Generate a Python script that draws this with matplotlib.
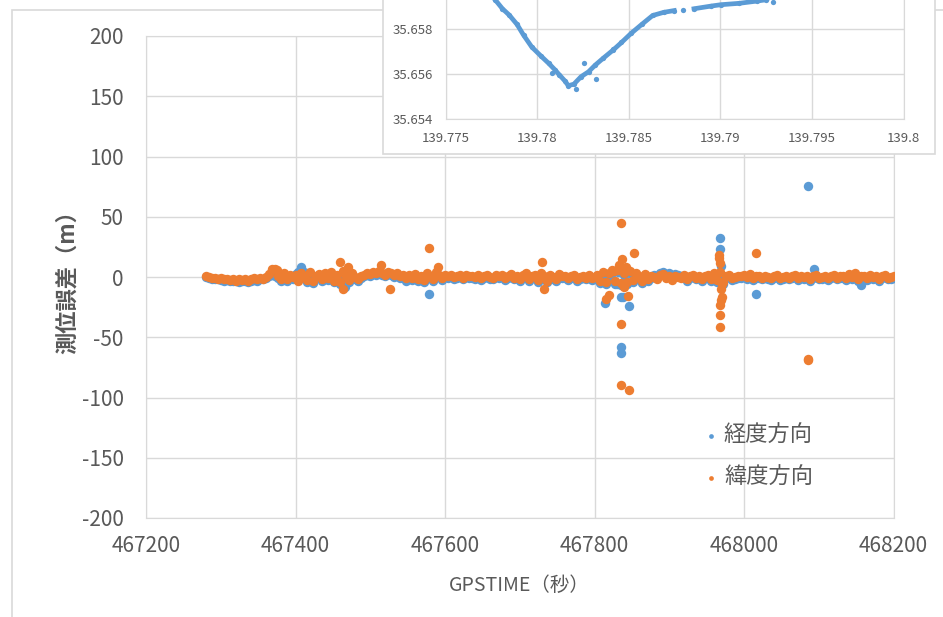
import matplotlib
matplotlib.use("Agg")
import matplotlib.pyplot as plt
import numpy as np
from matplotlib.patches import Rectangle

plt.rcParams['font.family'] = ['Noto Sans CJK JP', 'DejaVu Sans']
plt.rcParams['axes.unicode_minus'] = False

BLUE = '#5B9BD5'
ORANGE = '#ED7D31'
GRID = '#d9d9d9'
TXT = '#595959'

# GPS time (s), one sample every 4 s
gps_time = [467280, 467284, 467288, 467292, 467296, 467300, 467304, 467308, 467312, 467316,
            467320, 467324, 467328, 467332, 467336, 467340, 467344, 467348, 467352, 467356,
            467360, 467364, 467368, 467372, 467376, 467380, 467384, 467388, 467392, 467396,
            467400, 467404, 467408, 467412, 467416, 467420, 467424, 467428, 467432, 467436,
            467440, 467444, 467448, 467452, 467456, 467460, 467464, 467468, 467472, 467476,
            467480, 467484, 467488, 467492, 467496, 467500, 467504, 467508, 467512, 467516,
            467520, 467524, 467528, 467532, 467536, 467540, 467544, 467548, 467552, 467556,
            467560, 467564, 467568, 467572, 467576, 467580, 467584, 467588, 467592, 467596,
            467600, 467604, 467608, 467612, 467616, 467620, 467624, 467628, 467632, 467636,
            467640, 467644, 467648, 467652, 467656, 467660, 467664, 467668, 467672, 467676,
            467680, 467684, 467688, 467692, 467696, 467700, 467704, 467708, 467712, 467716,
            467720, 467724, 467728, 467732, 467736, 467740, 467744, 467748, 467752, 467756,
            467760, 467764, 467768, 467772, 467776, 467780, 467784, 467788, 467792, 467796,
            467800, 467804, 467808, 467812, 467816, 467820, 467824, 467828, 467832, 467836,
            467840, 467844, 467848, 467852, 467856, 467860, 467864, 467868, 467872, 467876,
            467880, 467884, 467888, 467892, 467896, 467900, 467904, 467908, 467912, 467916,
            467920, 467924, 467928, 467932, 467936, 467940, 467944, 467948, 467952, 467956,
            467960, 467964, 467968, 467972, 467976, 467980, 467984, 467988, 467992, 467996,
            468000, 468004, 468008, 468012, 468016, 468020, 468024, 468028, 468032, 468036,
            468040, 468044, 468048, 468052, 468056, 468060, 468064, 468068, 468072, 468076,
            468080, 468084, 468088, 468092, 468096, 468100, 468104, 468108, 468112, 468116,
            468120, 468124, 468128, 468132, 468136, 468140, 468144, 468148, 468152, 468156,
            468160, 468164, 468168, 468172, 468176, 468180, 468184, 468188, 468192, 468196,
            468200]

# longitude-direction error (m)
lon_err = [0.0, -0.5, -1.5, -2.0, -2.0, -2.5, -3.0, -2.5, -3.0, -3.5,
           -3.5, -4.0, -3.0, -3.5, -4.5, -3.0, -2.5, -3.0, -2.0, -1.5,
           -1.0, 0.5, 2.0, 1.0, -1.0, -3.0, 1.0, -3.5, 0.0, -1.5,
           2.5, 4.0, 1.0, -1.0, -4.0, 2.0, -5.0, -1.0, 1.0, -3.5,
           1.5, -2.5, 2.0, -4.5, 0.0, -5.5, 2.0, -3.0, -4.5, 1.0,
           -1.5, -3.0, -1.0, 0.5, 2.0, 1.0, 2.5, 1.5, 3.0, 1.5,
           0.5, 2.5, 1.5, 0.0, 2.0, -1.0, 0.5, -3.0, -0.5, -2.5,
           0.5, -3.5, -1.0, -4.0, 1.0, -1.0, -3.5, 2.0, 0.0, -2.5,
           0.0, -1.0, 0.5, -1.5, -0.5, 0.5, -2.0, 0.0, -1.0, -0.5,
           -1.5, 0.0, -2.5, -0.5, 0.5, -1.5, -2.0, 0.0, -1.0, 0.5,
           -2.5, -0.5, 1.0, -2.0, -1.0, -3.5, 0.0, 1.5, -3.0, -1.0,
           0.5, -4.0, 2.0, -0.5, -4.5, 0.5, -1.5, -3.0, 1.0, -1.0,
           -0.5, -2.5, -1.0, 0.0, -3.0, -1.5, -0.5, -2.0, 0.5, -2.5,
           -1.5, 0.5, -5.0, 2.0, -6.0, 1.0, 3.0, -5.5, 4.0, -7.0,
           1.5, -6.0, 3.0, -4.0, 1.5, -0.5, -5.0, 1.0, -3.0, -0.5,
           2.0, 1.0, 3.5, 4.0, 2.5, 3.0, 1.0, 2.5, 1.5, 0.5,
           0.0, -3.0, -1.0, 0.5, -2.0, -0.5, -3.5, -1.0, 0.5, -3.0,
           1.5, -4.0, 2.5, -5.5, -1.0, 0.0, -2.5, -1.5, -0.5, -1.0,
           0.0, -1.5, 1.0, -2.5, -0.5, -1.0, -2.0, -0.5, -1.5, -2.5,
           -1.0, 0.0, -2.5, -1.5, -0.5, -2.0, -1.0, 0.0, -2.5, -1.0,
           -1.5, -0.5, -3.0, -1.0, 0.0, -2.0, -1.5, -0.5, -2.5, -1.0,
           0.0, -2.0, -1.0, -0.5, -2.5, 1.0, -1.5, 1.5, -3.0, -0.5,
           -1.0, -2.5, 0.5, -1.5, -0.5, -3.0, -1.0, 0.0, -2.0, -1.5,
           -1.0]

# latitude-direction error (m)
lat_err = [0.5, 0.0, -0.5, -1.0, -1.5, -1.0, -2.0, -1.5, -2.5, -2.0,
           -3.0, -2.0, -2.5, -1.5, -3.0, -2.0, -1.0, -2.0, -0.5, -1.5,
           0.0, 2.5, 6.0, 7.0, 1.0, -1.5, 3.0, -2.0, 1.5, 0.0,
           2.0, -3.0, 3.5, 1.0, -2.5, 4.0, -3.5, 0.5, 2.5, -2.0,
           3.0, -1.0, 4.0, -3.0, 2.0, -4.0, 5.0, 1.0, -2.5, 3.0,
           0.0, -1.5, 1.0, 2.0, 3.5, 2.5, 4.0, 3.0, 5.0, 3.0,
           2.0, 4.5, 3.0, 1.5, 3.5, 0.5, 2.0, -1.0, 1.5, -0.5,
           2.5, -1.5, 1.0, -2.5, 3.0, 1.0, -2.0, 4.0, 2.0, -1.0,
           1.5, 0.5, 2.0, 0.0, 1.0, 2.0, -0.5, 1.5, 0.5, 1.0,
           0.0, 1.5, -1.0, 1.0, 2.0, 0.0, -0.5, 1.5, 0.5, 2.0,
           -1.0, 1.0, 2.5, -0.5, 0.5, -2.0, 1.5, 3.0, -1.5, 0.5,
           2.0, -2.5, 3.5, 1.0, -3.0, 2.0, 0.0, -1.5, 2.5, 0.5,
           1.0, -1.0, 0.5, 1.5, -1.5, 0.0, 1.0, -0.5, 2.0, -1.0,
           0.0, 2.0, -3.0, 4.0, -4.5, 3.0, 5.5, -3.5, 6.0, -5.0,
           3.5, -4.0, 5.0, -2.5, 3.0, 1.0, -3.5, 2.5, -1.5, 1.0,
           0.0, -2.0, 1.5, 2.5, -1.0, 0.5, -2.5, 1.0, 0.0, -1.0,
           1.5, -1.5, 0.5, 2.0, -0.5, 1.0, -2.0, 0.5, 2.0, -1.5,
           3.0, -2.5, 4.0, -4.0, 0.5, 1.5, -1.0, 0.0, 1.0, 0.5,
           1.5, 0.0, 2.5, -1.0, 1.0, 0.5, -0.5, 1.0, 0.0, -1.0,
           0.5, 1.5, -1.0, 0.0, 1.0, -0.5, 0.5, 1.5, -1.0, 0.5,
           0.0, 1.0, -1.5, 0.5, 1.5, -0.5, 0.0, 1.0, -1.0, 0.5,
           1.5, -0.5, 0.5, 1.0, -1.0, 2.5, 0.0, 3.0, -1.5, 1.0,
           0.5, -1.0, 2.0, 0.0, 1.0, -1.5, 0.5, 1.5, -0.5, 0.0,
           0.5]

# isolated large errors
lon_spike_t = [467408, 467412, 467463, 467466, 467579, 467814, 467830, 467836, 467838,
               467846, 467836, 467836, 467968, 467968, 467969, 468016, 468094, 468157, 468085]
lon_spike_v = [8.0, 4.0, -5.5, -8.0, -14.0, -21.6, -6.0, -16.6, -16.6,
               -24.0, -58.0, -63.0, 32.4, 23.0, 9.0, -13.8, 7.0, -7.0, 75.3]

lat_spike_t = [467368, 467375, 467460, 467463, 467470, 467515, 467527, 467579, 467590,
               467730, 467733, 467816, 467820, 467826, 467833, 467835, 467837, 467840,
               467842, 467845, 467853, 467836, 467836, 467846, 467966, 467967, 467968,
               467969, 467970, 467969, 467968, 467968, 467968, 467971, 468016, 468085,
               468086]
lat_spike_v = [7.0, 6.0, 12.5, -10.0, 8.0, 10.0, -10.0, 24.0, 8.0,
               12.5, -10.0, -18.0, -15.0, 5.0, 10.0, 45.0, 14.7, -8.0,
               8.0, -16.0, 20.0, -38.7, -90.0, -94.0, 18.0, 15.5, 12.0,
               -10.0, -16.6, -19.3, -23.5, -31.8, -41.5, -6.0, 20.0, -67.8,
               -68.5]

# inset: track of the receiver (longitude, latitude)
nan = float('nan')
track_lon = [139.7770, 139.7774, 139.7777, 139.7781, 139.77847, 139.7789, 139.77925, 139.7797,
             139.7802, 139.78063, 139.78095, 139.78121, 139.7815, 139.7817, 139.7820, 139.78239,
             139.7828, 139.78317, 139.7836, 139.78415, 139.7846, 139.78513, 139.7857, 139.7863,
             139.7869, 139.78748, nan, 139.78797, nan, 139.78856, 139.7895, 139.79003,
             139.79101, 139.79199, 139.7925, 139.7930]
track_lat = [35.6600, 35.6596, 35.6593, 35.6589, 35.65862, 35.6582, 35.65773, 35.6572,
             35.6568, 35.65647, 35.6562, 35.65596, 35.6557, 35.65548, 35.65555, 35.65588,
             35.6561, 35.6564, 35.6567, 35.65707, 35.6574, 35.65781, 35.6582, 35.6586,
             35.65874, 35.65882, nan, 35.65884, nan, 35.6589, 35.65902, 35.65908,
             35.65914, 35.65924, 35.6593, 35.6596]
stray_lon = [139.78082, 139.7821, 139.78255, 139.78321, 139.78413, 139.7929]
stray_lat = [35.65603, 35.65532, 35.65647, 35.65576, 35.65713, 35.6592]

fig = plt.figure(figsize=(9.43, 6.17), dpi=100)

# outer chart frame
fig.patches.append(Rectangle((12 / 943, -0.1), 1.2, (617 - 10) / 617 + 0.1, transform=fig.transFigure,
                             facecolor='none', edgecolor=GRID, lw=1.2, zorder=0.5))

ax = fig.add_axes([146 / 943, (617 - 518) / 617, (893.5 - 146) / 943, (518 - 36) / 617])
ax.set_zorder(0)
ms = 46
ax.scatter(gps_time, lon_err, s=ms, color=BLUE, linewidths=0, label='経度方向', zorder=3)
ax.scatter(lon_spike_t, lon_spike_v, s=ms, color=BLUE, linewidths=0, zorder=3)
ax.scatter(gps_time, lat_err, s=ms, color=ORANGE, linewidths=0, label='緯度方向', zorder=4)
ax.scatter(lat_spike_t, lat_spike_v, s=ms, color=ORANGE, linewidths=0, zorder=4)

ax.set_xlim(467200, 468200)
ax.set_ylim(-200, 200)
ax.set_xticks(np.arange(467200, 468201, 200))
ax.set_yticks(np.arange(-200, 201, 50))
ax.grid(True, color=GRID, lw=1)
ax.set_axisbelow(True)
for sp in ax.spines.values():
    sp.set_color(GRID)
ax.tick_params(length=0, colors=TXT, labelsize=15)
ax.tick_params(axis='y', pad=16)
ax.tick_params(axis='x', pad=12)
ax.set_xlabel('GPSTIME（秒）', fontsize=14, color=TXT, labelpad=13)
ax.set_ylabel('測位誤差（m）', fontsize=16, color=TXT, fontweight='bold', labelpad=2)

ax.legend(loc='center left', bbox_to_anchor=(695 / 943, (617 - 456) / 617), bbox_transform=fig.transFigure,
          frameon=False, fontsize=16, markerscale=0.5, handlelength=0.45, handletextpad=0.35,
          labelspacing=0.85, borderpad=0, labelcolor=TXT)

# inset box and chart
fig.patches.append(Rectangle((383 / 943, (617 - 154) / 617), (935 - 383) / 943, 0.5, transform=fig.transFigure,
                             facecolor='white', edgecolor=GRID, lw=1.2, zorder=1))

ins = fig.add_axes([445.7 / 943, (617 - 119) / 617, (903.5 - 445.7) / 943, 135 / 617])
ins.set_zorder(2)
ins.plot(track_lon, track_lat, '-o', color=BLUE, lw=3.4, ms=3.8, mew=0)
ins.plot(stray_lon, stray_lat, 'o', color=BLUE, ms=3.8, mew=0)
ins.set_xlim(139.775, 139.8)
ins.set_ylim(35.654, 35.660)
ins.set_xticks([139.775, 139.78, 139.785, 139.79, 139.795, 139.8])
ins.set_xticklabels(['139.775', '139.78', '139.785', '139.79', '139.795', '139.8'])
ins.set_yticks([35.654, 35.656, 35.658])
ins.set_yticklabels(['35.654', '35.656', '35.658'])
ins.grid(True, color=GRID, lw=1)
ins.set_axisbelow(True)
for sp in ins.spines.values():
    sp.set_color(GRID)
ins.tick_params(length=0, colors=TXT, labelsize=9.5, pad=9)

fig.savefig('out.png', dpi=100)
